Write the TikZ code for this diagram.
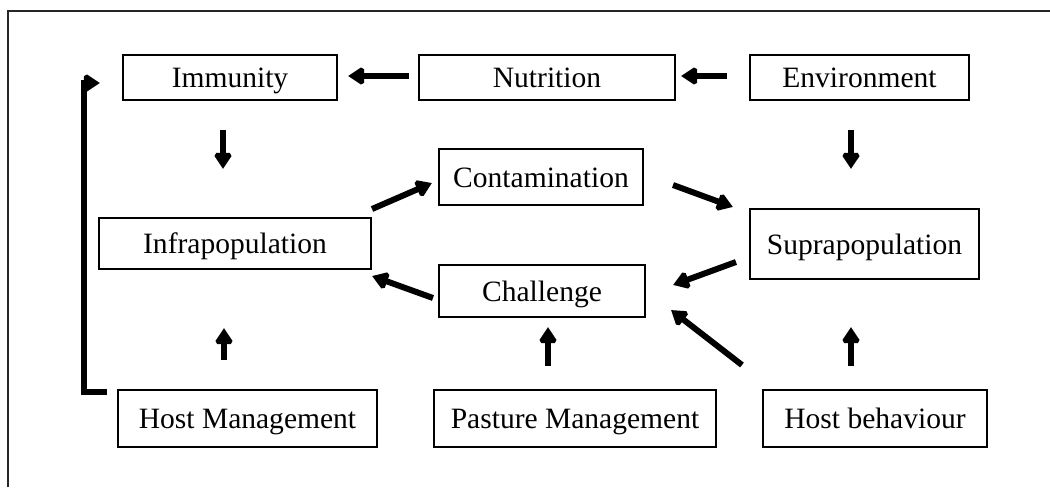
\documentclass[tikz,border=0pt]{standalone}
\usepackage{fontspec}
\setmainfont{Liberation Serif}
\usetikzlibrary{arrows.meta,calc}
\begin{document}
\begin{tikzpicture}[x=0.025cm,y=-0.025cm,
  box/.style={draw,line width=1.3pt,inner sep=0pt,outer sep=0pt,
    text height=0.5cm,text depth=0cm,
    font=\fontsize{21}{24}\selectfont},
  arr/.style={line width=0.15cm,-{Triangle[length=0.4cm,width=0.5cm]},miter limit=2}]
\useasboundingbox (0,0) rectangle (1050,487);
\draw[line width=0.8pt,black!85] (8,487) -- (8,11) -- (1050,11);
% boxes
\node[box,minimum width=5.35cm,minimum height=1.125cm] (imm) at (230,77.5) {Immunity};
\node[box,minimum width=6.4cm,minimum height=1.125cm] (nut) at (547,77.5) {Nutrition};
\node[box,minimum width=5.475cm,minimum height=1.125cm] (env) at (859.5,77.5) {Environment};
\node[box,minimum width=5.1cm,minimum height=1.4cm] (cont) at (541,177) {Contamination};
\node[box,minimum width=5.15cm,minimum height=1.3cm] (chal) at (542,291) {Challenge};
\node[box,minimum width=6.8cm,minimum height=1.275cm] (inf) at (235,243.5) {Infrapopulation};
\node[box,minimum width=5.725cm,minimum height=1.75cm] (sup) at (864.5,244) {Suprapopulation};
\node[box,minimum width=6.475cm,minimum height=1.425cm] (hm) at (247.5,418.5) {Host Management};
\node[box,minimum width=7.05cm,minimum height=1.425cm] (pm) at (575,418.5) {Pasture Management};
\node[box,minimum width=5.6cm,minimum height=1.425cm] (hb) at (875,418.5) {Host behaviour};
% arrows
\draw[arr] ($(nut.west)+(-10,-1.5)$) -- ($(imm.east)+(11,-1.5)$);
\draw[arr] ($(env.west)+(-23,-1.5)$) -- ($(nut.east)+(6,-1.5)$);
\draw[arr] ($(imm.south)+(-7,30)$) -- ($(inf.north)+(-12,-49)$);
\draw[arr] ($(env.south)+(-8.5,30)$) -- ($(sup.north)+(-13.5,-40)$);
\draw[arr] ($(hm.north)+(-23.5,-30)$) -- ($(inf.south)+(-11,59)$);
\draw[arr] ($(pm.north)+(-27,-24)$) -- ($(chal.south)+(6,10)$);
\draw[arr] ($(hb.north)+(-24,-24)$) -- ($(sup.south)+(-13.5,48)$);
\draw[arr] ($(inf.north east)+(1,-9)$) -- ($(cont.west)+(-7,6)$);
\draw[arr] ($(cont.east)+(30,8)$) -- ($(sup.north west)+(-17,-2)$);
\draw[arr] ($(sup.west)+(-14,18)$) -- ($(chal.east)+(28,-6)$);
\draw[arr] ($(chal.west)+(-6,7)$) -- ($(inf.east)+(1,32.5)$);
\draw[arr] ($(hb.north west)+(-21,-25)$) -- ($(chal.south east)+(26,-7)$);
\draw[arr] ($(hm.west)+(-11,-26.5)$) -- ++(-23,0) |- ($(imm.west)+(-23,5.5)$);
\end{tikzpicture}
\end{document}
